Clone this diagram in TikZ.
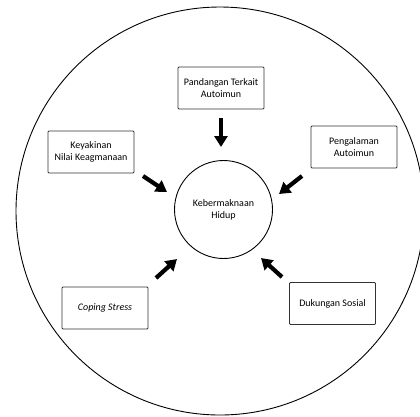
\documentclass[tikz,border=0pt]{standalone}
\usepackage{fontspec}
\setmainfont{Carlito}
\usetikzlibrary{arrows.meta, positioning}
\tikzset{
    factorBox/.style={draw=black!80, rectangle, rounded corners=1pt, line width=0.9pt, minimum width=86pt, minimum height=42pt, inner sep=2pt, align=center, font=\fontsize{10}{12}\selectfont},
    hidupNode/.style={circle, draw, line width=0.9pt, minimum size=98pt, inner sep=0pt, align=center, font=\fontsize{10}{12}\selectfont},
    pushArrow/.style={-{Triangle[length=11pt, width=13pt]}, line width=4.2pt},
}
\newcommand{\drawPush}[2]{
    \draw[pushArrow] (#1) -- (#2);
}
\begin{document}
\begin{tikzpicture}[x=1pt, y=-1pt]
    \useasboundingbox (0,0) rectangle (420,416);
    % lingkaran luar
    \draw[line width=0.9pt] (220,211) circle[radius=204];

    \node[hidupNode] (hidup) at (223.5, 209.5) {Kebermaknaan\\Hidup};

    \node[factorBox] (pandangan) at (221, 88) {Pandangan Terkait\\Autoimun};
    \node[factorBox] (keyakinan) at (91, 152) {Keyakinan\\Nilai Keagmanaan};
    \node[factorBox] (pengalaman) at (354, 147) {Pengalaman\\Autoimun};
    \node[factorBox] (coping) at (105, 308) {\itshape Coping Stress};
    \node[factorBox] (dukungan) at (332.5, 303.5) {Dukungan Sosial};

    % ujung panah
    \coordinate (p1) at (221, 118);  \coordinate (q1) at (221, 147);
    \coordinate (p2) at (143, 176);  \coordinate (q2) at (167, 192);
    \coordinate (p3) at (302, 176);  \coordinate (q3) at (279, 194);
    \coordinate (p4) at (156, 278);  \coordinate (q4) at (177, 259);
    \coordinate (p5) at (282, 277);  \coordinate (q5) at (261, 258);

    \drawPush{p1}{q1}
    \drawPush{p2}{q2}
    \drawPush{p3}{q3}
    \drawPush{p4}{q4}
    \drawPush{p5}{q5}
\end{tikzpicture}
\end{document}
